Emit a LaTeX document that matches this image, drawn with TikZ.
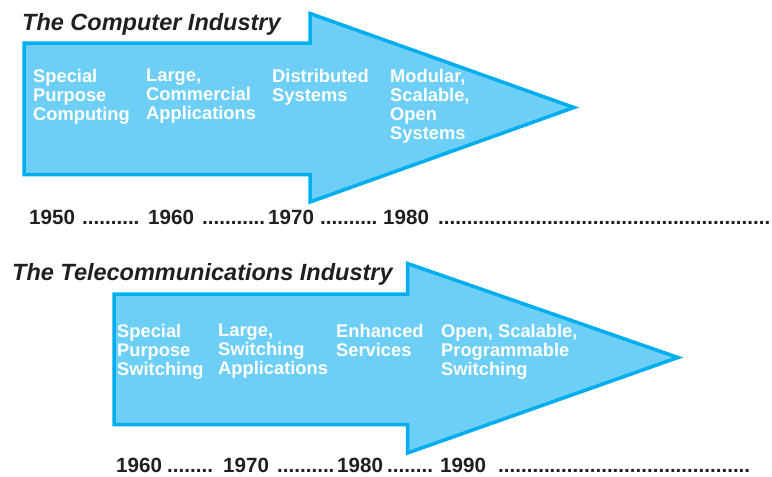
\documentclass[tikz,border=0pt]{standalone}
\usepackage{fontspec}
\setmainfont{Liberation Sans}
\usetikzlibrary{positioning}
\definecolor{arrowfill}{RGB}{109,207,246}
\definecolor{arrowline}{RGB}{0,174,239}
\definecolor{ink}{RGB}{35,31,32}

\begin{document}
\begin{tikzpicture}[x=1pt,y=-1pt,
  big arrow/.style={draw=arrowline,fill=arrowfill,line width=3.5pt,line join=miter},
  title/.style={anchor=base west,inner sep=0,text=ink,font=\fontsize{23.5}{25}\selectfont\bfseries\itshape},
  stage/.style={anchor=north west,inner sep=0,align=left,text=white,font=\fontsize{18.3}{19}\selectfont\bfseries},
  year/.style={anchor=base west,inner sep=0,text=ink,font=\fontsize{20.6}{21}\selectfont\bfseries}]
   \useasboundingbox (0,0) rectangle (772,477);
   % computer industry
   \draw[big arrow] (24,43) -- (310,43) -- (310,13.5) -- (574,107.5)
      -- (310,202) -- (310,174.5) -- (24,174.5) -- cycle;
   \node[title] (comp)  at (22,30)  {The Computer Industry};
   \node[stage] (spc)   at (33,69)  {Special\\Purpose\\Computing};
   \node[stage] (lca)   at (146,69) {Large,\\Commercial\\Applications};
   \node[stage] (dist)  at (272,69) {Distributed\\Systems};
   \node[stage] (mod)   at (390,69) {Modular,\\Scalable,\\Open\\Systems};
   \node[year]  (c1950) at (29,224)  {1950};
   \node[year]  (cd1)   at (82,224)  {..........};
   \node[year]  (c1960) at (148,224) {1960};
   \node[year]  (cd2)   at (202,224) {...........};
   \node[year]  (c1970) at (268,224) {1970};
   \node[year]  (cd3)   at (320,224) {..........};
   \node[year]  (c1980) at (383,224) {1980};
   \node[year]  (cd4)   at (438,224) {..........................................................};
   % telecommunications industry
   \draw[big arrow] (114,294) -- (407.5,294) -- (407.5,263.5) -- (678,357.5)
      -- (407.5,453) -- (407.5,424.5) -- (114,424.5) -- cycle;
   \node[title] (tele)  at (12,280)  {The Telecommunications Industry};
   \node[stage] (sps)   at (117,324) {Special\\Purpose\\Switching};
   \node[stage] (lsa)   at (218,324) {Large,\\Switching\\Applications};
   \node[stage] (enh)   at (336,324) {Enhanced\\Services};
   \node[stage] (osp)   at (441,324) {Open, Scalable,\\Programmable\\Switching};
   \node[year]  (t1960) at (116,472) {1960};
   \node[year]  (td1)   at (167,472) {........};
   \node[year]  (t1970) at (223,472) {1970};
   \node[year]  (td2)   at (277,472) {..........};
   \node[year]  (t1980) at (337,472) {1980};
   \node[year]  (td3)   at (387,472) {........};
   \node[year]  (t1990) at (440,472) {1990};
   \node[year]  (td4)   at (498,472) {............................................};
\end{tikzpicture}
\end{document}
